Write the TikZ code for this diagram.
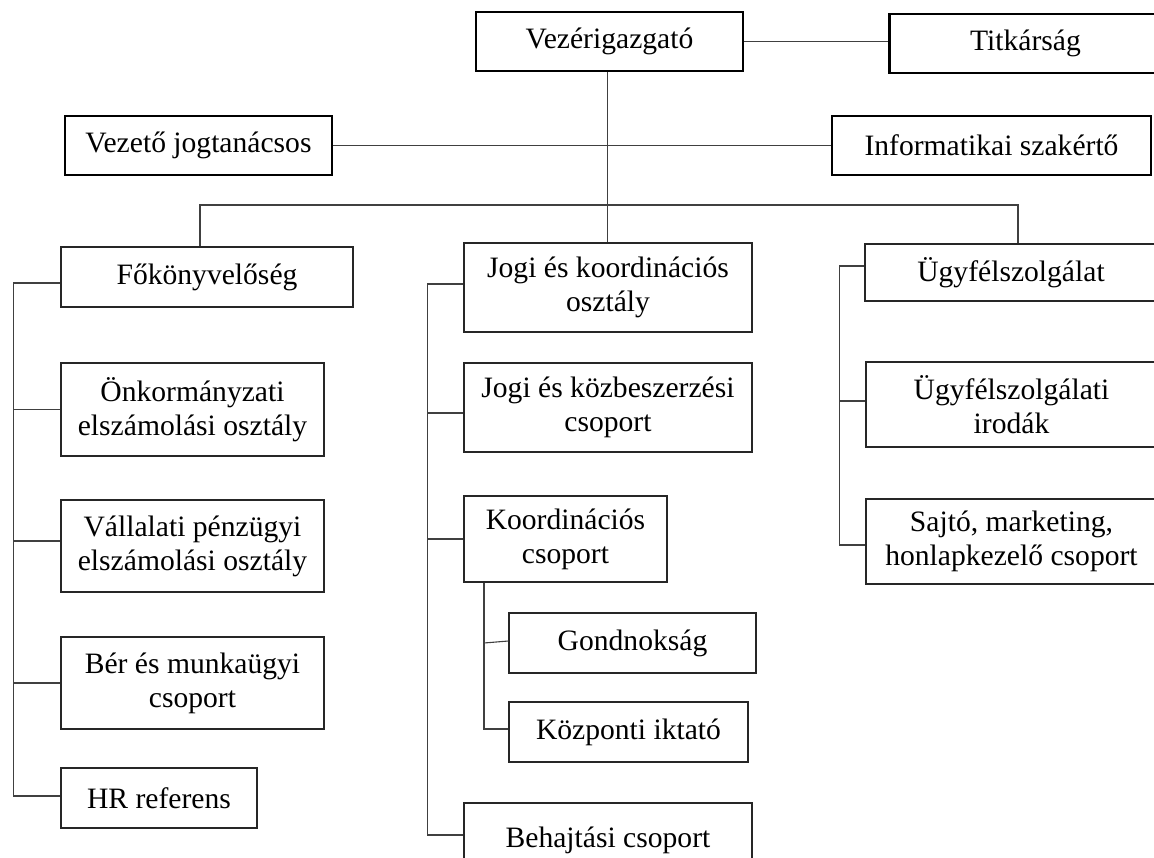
\documentclass[tikz,border=0pt]{standalone}
\usepackage{fontspec}
\setmainfont{Liberation Serif}
\begin{document}
\begin{tikzpicture}[x=1pt,y=-1pt,
  box/.style={draw=black!85,line width=1.2pt,rectangle,inner sep=0pt,align=center,
    font=\fontsize{29.6}{34}\selectfont},
  topbox/.style={box,draw=black,line width=2.2pt},
  conn/.style={draw=black!75,line width=1.1pt}]
\useasboundingbox (0,0) rectangle (1154,858);
% top level
\node[topbox,minimum width=267pt,minimum height=59pt] (vez) at (609.5,41.5) {Vezérigazgató};
\node[topbox,minimum width=272pt,minimum height=59pt] (tit) at (1025.5,43.5) {Titkárság};
\node[topbox,minimum width=267pt,minimum height=59pt] (jog) at (198.5,145.5) {Vezető jogtanácsos};
\node[topbox,minimum width=319pt,minimum height=59pt] (inf) at (991.5,145.5) {Informatikai szakértő};
% left column
\node[box,minimum width=292pt,minimum height=60pt] (fok) at (207,277) {Főkönyvelőség};
\node[box,minimum width=263pt,minimum height=93pt] (onk) at (192.5,409.5) {Önkormányzati\\elszámolási osztály};
\node[box,minimum width=263pt,minimum height=92pt] (val) at (192.5,546) {Vállalati pénzügyi\\elszámolási osztály};
\node[box,minimum width=263pt,minimum height=92pt] (ber) at (192.5,683) {Bér és munkaügyi\\csoport};
\node[box,minimum width=196pt,minimum height=60pt] (hr) at (159,798) {HR referens};
% middle column
\node[box,minimum width=288pt,minimum height=89pt] (jk) at (608,287.5) {Jogi és koordinációs\\osztály};
\node[box,minimum width=288pt,minimum height=89pt] (jkb) at (608,407.5) {Jogi és közbeszerzési\\csoport};
\node[box,minimum width=203pt,minimum height=86pt] (koo) at (565.5,539) {Koordinációs\\csoport};
\node[box,minimum width=247pt,minimum height=60pt] (gon) at (632.5,643) {Gondnokság};
\node[box,minimum width=239pt,minimum height=60pt] (kozp) at (628.5,732) {Központi iktató};
\node[box,minimum width=288pt,minimum height=75pt] (beh) at (608,840.5) {Behajtási csoport};
% right column
\node[box,minimum width=292pt,minimum height=57pt] (ugy) at (1011,272.5) {Ügyfélszolgálat};
\node[box,minimum width=291pt,minimum height=85pt] (ui) at (1011.5,404.5) {Ügyfélszolgálati\\irodák};
\node[box,minimum width=291pt,minimum height=85pt] (saj) at (1011.5,541.5) {Sajtó, marketing,\\honlapkezelő csoport};
% top connectors
\draw[conn] (vez.east) -- (vez.east -| tit.west);
\draw[conn] (jog.east) -- (jog.east -| inf.west);
\draw[conn] ([xshift=-2pt]vez.south) -- ([xshift=-2pt]vez.south |- jk.north);
\coordinate (bL) at (200,205);
\coordinate (bR) at (1018,205);
\draw[conn] (bL |- fok.north) -- (bL) -- (bR) -- (bR |- ugy.north);
% left trunk
\draw[conn] ([yshift=-6pt]fok.west) -- ++(-47,0) |- ([yshift=2pt]hr.west);
\draw[conn] (onk.west) -- ++(-47,0);
\draw[conn] ([yshift=5pt]val.west) -- ++(-47,0);
\draw[conn] (ber.west) -- ++(-47,0);
% middle trunk
\draw[conn] ([yshift=3.5pt]jk.west) -- ++(-36,0) |- ([yshift=5.5pt]beh.west);
\draw[conn] ([yshift=-5.5pt]jkb.west) -- ++(-36,0);
\draw[conn] (koo.west) -- ++(-36,0);
\coordinate (ks) at (484,0);
\draw[conn] (koo.south -| ks) |- ([yshift=3pt]kozp.west);
\draw[conn] (ks |- gon.west) -- ([yshift=2pt]gon.west);
% right trunk
\draw[conn] ([yshift=6.5pt]ugy.west) -- ++(-25,0) |- ([yshift=-3.5pt]saj.west);
\draw[conn] ([yshift=3.5pt]ui.west) -- ++(-25,0);
\end{tikzpicture}
\end{document}
